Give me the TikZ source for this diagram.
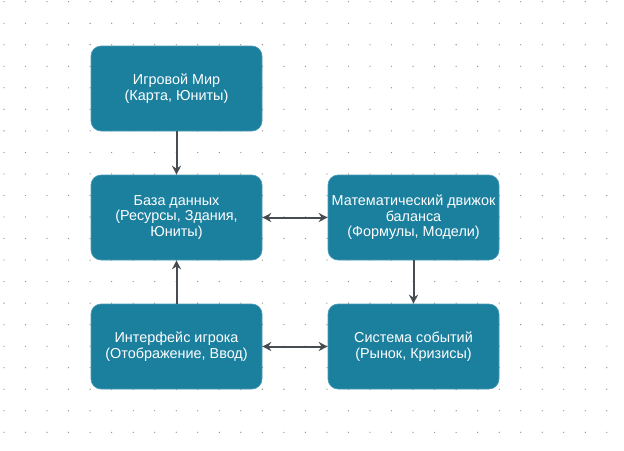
\documentclass[tikz,border=0pt]{standalone}
\usepackage{fontspec}
\setmainfont{Liberation Sans}
\usetikzlibrary{arrows.meta}
\definecolor{boxfill}{HTML}{1B7F9E}
\definecolor{boxedge}{HTML}{4A9BB5}
\definecolor{arrowgray}{HTML}{474C52}
\definecolor{dotgray}{HTML}{8A8A8A}
\begin{document}
\begin{tikzpicture}[x=1pt, y=-1pt,
  block/.style={shape=rectangle, rounded corners=10pt, fill=boxfill, draw=boxedge, line width=0.6pt,
    minimum width=171pt, minimum height=85pt, text=white, align=center,
    font=\fontsize{14.4}{15.5}\selectfont, inner sep=2pt},
  link/.style={draw=arrowgray, line width=2pt}]
\useasboundingbox (0,0) rectangle (624,450);
\foreach \i in {0,...,28}
  \foreach \j in {0,...,20}
    \fill[dotgray] (4+\i*21.53, 1.7+\j*21.53) circle (0.65);
\node[block] (world) at (176.5, 88.5) {Игровой Мир\\(Карта, Юниты)};
\node[block] (db) at (176.5, 217.5) {База данных\\(Ресурсы, Здания,\\Юниты)};
\node[block] (math) at (413.5, 217.5) {Математический движок\\баланса\\(Формулы, Модели)};
\node[block] (events) at (413.5, 346.5) {Система событий\\(Рынок, Кризисы)};
\node[block] (ui) at (176.5, 346.5) {Интерфейс игрока\\(Отображение, Ввод)};
\path [-{Stealth[length=9pt,width=9pt]}, link] (world) edge (db);
\path [{Stealth[length=9pt,width=9pt]}-{Stealth[length=9pt,width=9pt]}, link] (db) edge (math);
\path [-{Stealth[length=9pt,width=9pt]}, link] (math) edge (events);
\path [-{Stealth[length=9pt,width=9pt]}, link] (ui) edge (db);
\path [{Stealth[length=9pt,width=9pt]}-{Stealth[length=9pt,width=9pt]}, link] (ui) edge (events);
\end{tikzpicture}
\end{document}
